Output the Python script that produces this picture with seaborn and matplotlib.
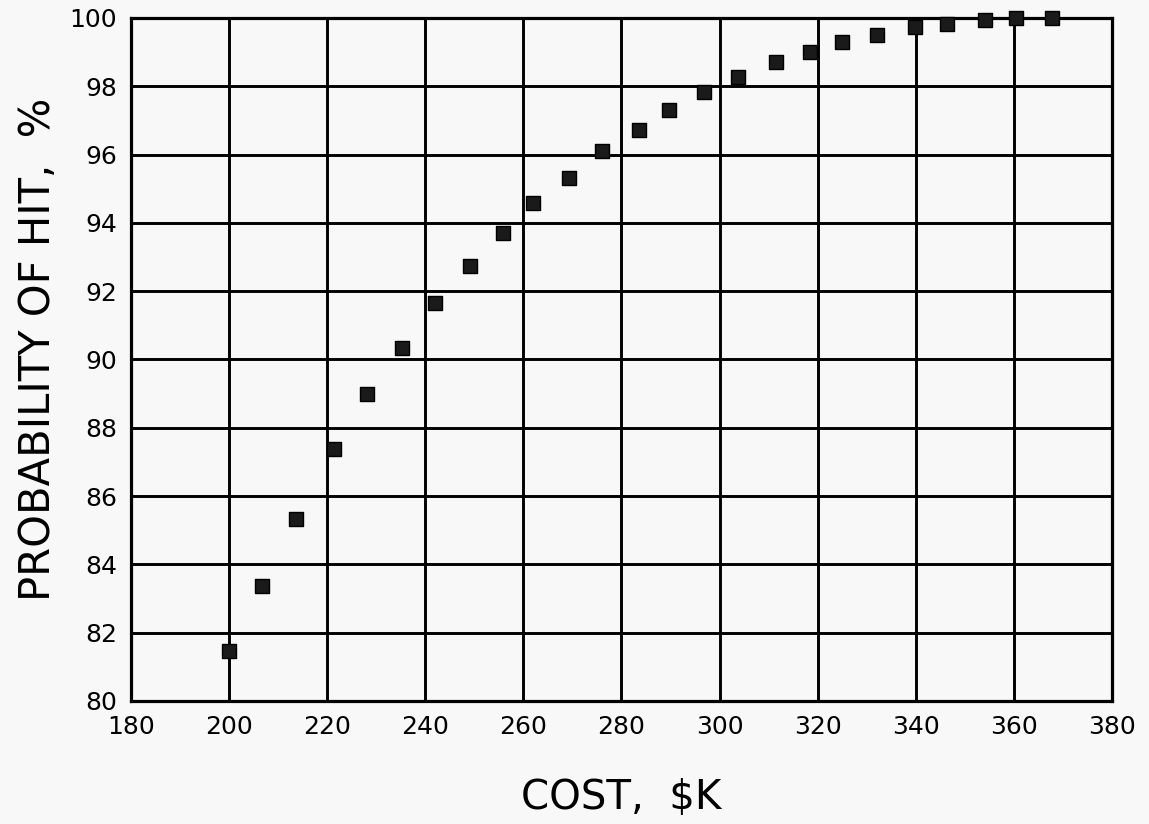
import pandas as pd
import seaborn as sns
import matplotlib.pyplot as plt

# values
cost = [200.0, 206.8, 213.6, 221.4, 228.2, 235.2, 241.9, 249.1, 255.9, 262.0,
        269.3, 276.1, 283.5, 289.7, 296.9, 303.7, 311.5, 318.4, 325.0, 332.0,
        339.9, 346.4, 354.1, 360.4, 367.8]
p_hit = [81.47, 83.37, 85.34, 87.37, 88.99, 90.33, 91.65, 92.73, 93.71, 94.58,
         95.32, 96.11, 96.72, 97.30, 97.84, 98.28, 98.72, 99.00, 99.29, 99.51,
         99.73, 99.82, 99.94, 100.0, 100.0]
x_ticks = list(range(180, 381, 20))
y_ticks = list(range(80, 101, 2))

df = pd.DataFrame({'cost': cost, 'p_hit': p_hit})

sns.set_style('white')
plt.rcParams['font.family'] = ['DejaVu Sans']

bg = '#f8f8f8'
fig = plt.figure(figsize=(11.49, 8.24), dpi=100, facecolor=bg)
ax = fig.add_axes([0.114, 0.1493, 0.8538, 0.8289])
ax.set_facecolor(bg)

sns.scatterplot(data=df, x='cost', y='p_hit', ax=ax, marker='s', s=90,
                color='#1a1a1a', edgecolor='black', linewidth=1.0, zorder=3,
                clip_on=False)

ax.set_xlim(180, 380)
ax.set_ylim(80, 100)
ax.set_xticks(x_ticks)
ax.set_yticks(y_ticks)
ax.grid(True, color='black', linewidth=2.1)
ax.set_axisbelow(True)
for sp in ax.spines.values():
    sp.set_color('black')
    sp.set_linewidth(2.3)

ax.tick_params(axis='both', direction='out', length=7, width=1.6, color='black',
               labelsize=18, pad=3, labelcolor='black')
ax.set_xlabel('COST,  $K', fontsize=29, color='black')
ax.xaxis.set_label_coords(0.5, -0.142)
ax.xaxis.label.set_va('center')
ax.set_ylabel('PROBABILITY OF HIT,  %', fontsize=30, color='black')
ax.yaxis.set_label_coords(-0.095, 0.515)
ax.yaxis.label.set_va('center')

fig.savefig('out.png', dpi=100, facecolor=bg)
